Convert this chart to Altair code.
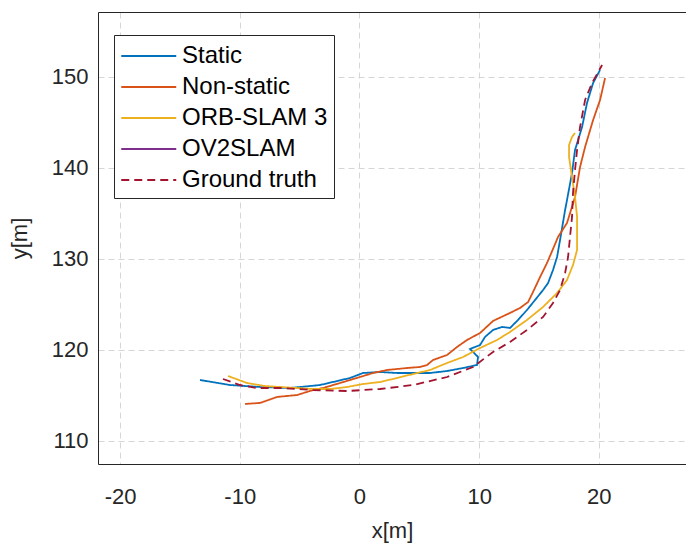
import altair as alt
import pandas as pd

series_names = ["Static", "Non-static", "ORB-SLAM 3", "OV2SLAM", "Ground truth"]
series_colors = ["#0072BD", "#D95319", "#EDB120", "#7E2F8E", "#A2142F"]

static_x = [-13.32, -10.81, -8.30, -5.80, -3.29, -0.79, 0.30, 1.72, 3.14, 4.81, 5.90, 7.32, 8.66, 9.82,
            9.91, 9.24, 10.08, 10.49, 11.16, 11.91, 12.58, 13.25, 14.00, 14.67, 15.34, 15.76, 16.17,
            16.51, 16.76, 17.18, 17.34, 17.76, 18.01, 18.60, 19.01, 19.52, 20.10]
static_y = [116.70, 116.15, 115.93, 115.82, 116.15, 116.92, 117.47, 117.58, 117.47, 117.47, 117.47,
            117.69, 118.02, 118.35, 119.23, 120.11, 120.55, 121.43, 122.20, 122.53, 122.42, 123.30,
            124.40, 125.49, 126.59, 127.36, 128.79, 130.22, 132.09, 135.38, 136.48, 139.45, 141.98,
            144.51, 147.14, 149.34, 150.77]

nonstatic_x = [-9.56, -8.30, -6.88, -5.21, -3.88, -3.04, -1.62, 0.05, 1.14, 2.31, 3.98, 5.06, 5.65, 6.15,
               7.32, 8.15, 8.99, 10.08, 11.16, 12.58, 13.42, 14.09, 14.50, 15.09, 15.67, 16.17, 16.59,
               17.34, 18.01, 18.43, 18.85, 19.52, 20.10, 20.35, 20.52]
nonstatic_y = [114.07, 114.18, 114.84, 115.05, 115.60, 115.82, 116.37, 117.03, 117.47, 117.80, 118.02,
               118.13, 118.35, 118.90, 119.45, 120.33, 121.10, 121.87, 123.19, 124.07, 124.62, 125.27,
               126.37, 128.02, 129.56, 131.10, 132.42, 133.96, 136.81, 140.11, 142.31, 145.27, 147.47,
               148.90, 149.89]

orb_x = [-10.98, -9.39, -7.89, -6.63, -3.88, -2.46, -1.04, 0.30, 1.72, 3.14, 4.48, 5.90, 7.32, 8.66,
         10.08, 11.50, 12.58, 14.00, 15.34, 16.51, 17.34, 17.84, 18.18, 18.18, 18.01, 17.76, 17.51,
         17.51, 17.76, 18.01]
orb_y = [117.14, 116.37, 116.04, 115.93, 115.71, 115.71, 115.93, 116.26, 116.48, 116.92, 117.36, 117.80,
         118.57, 119.23, 120.22, 121.10, 121.98, 123.30, 124.73, 126.26, 127.69, 129.34, 130.99, 134.62,
         136.81, 139.01, 141.21, 142.53, 143.41, 143.85]

ov2_x = []
ov2_y = []

gt_x = [-11.40, -9.98, -8.55, -6.63, -3.88, -1.04, 1.72, 4.48, 7.32, 9.49, 11.16, 12.58, 14.00, 15.34,
        16.17, 16.76, 17.18, 17.43, 17.59, 17.76, 17.84, 18.01, 18.18, 18.43, 18.85, 19.43, 20.27]
gt_y = [116.81, 116.15, 115.82, 115.82, 115.60, 115.49, 115.71, 116.15, 117.03, 118.13, 119.78, 120.88,
        122.20, 123.63, 125.16, 126.59, 128.46, 130.22, 132.42, 134.62, 137.25, 139.78, 141.98, 144.51,
        147.47, 149.34, 151.32]

x_ticks = [-20, -10, 0, 10, 20]
y_ticks = [110, 120, 130, 140, 150]
x_domain = [-21.84, 27.28]
y_domain = [107.47, 157.14]

rows = []
for name, xs, ys in [("Static", static_x, static_y), ("Non-static", nonstatic_x, nonstatic_y),
                     ("ORB-SLAM 3", orb_x, orb_y), ("OV2SLAM", ov2_x, ov2_y),
                     ("Ground truth", gt_x, gt_y)]:
    for i, (xv, yv) in enumerate(zip(xs, ys)):
        rows.append({"series": name, "idx": i, "x": xv, "y": yv})
df = pd.DataFrame(rows)

FONT = "Liberation Sans"
INK = "#262626"

x_scale = alt.Scale(domain=x_domain, nice=False, zero=False)
y_scale = alt.Scale(domain=y_domain, nice=False, zero=False)

y_axis = alt.Axis(values=y_ticks, title="y[m]", labelExpr="toString(datum.value)",
                  grid=True, gridDash=[6, 4], gridColor="#d6d6d6", ticks=False,
                  domain=True, domainColor=INK, labelFontSize=22, titleFontSize=22,
                  labelFont=FONT, titleFont=FONT, labelColor=INK, titleColor=INK,
                  titleFontWeight="normal", labelPadding=10, titlePadding=20)


def make_legend():
    return alt.Legend(orient="none", legendX=16, legendY=23, title=None,
                      symbolType="M-1,0L3,0", symbolSize=756, symbolStrokeWidth=1.8,
                      labelFontSize=24, labelFont=FONT, labelColor="black",
                      strokeColor=INK, fillColor="white", padding=6,
                      labelOffset=32, rowPadding=4)


lines = alt.Chart(df).mark_line(strokeWidth=1.8).encode(
    x=alt.X("x:Q", scale=x_scale,
            axis=alt.Axis(values=x_ticks, title="x[m]", labelExpr="toString(datum.value)",
                          grid=True, gridDash=[6, 4], gridColor="#d6d6d6", ticks=False,
                          domain=True, domainColor=INK, labelFontSize=22, titleFontSize=22,
                          labelFont=FONT, titleFont=FONT, labelColor=INK, titleColor=INK,
                          titleFontWeight="normal", labelPadding=22, titlePadding=13)),
    y=alt.Y("y:Q", scale=y_scale, axis=y_axis),
    color=alt.Color("series:N", scale=alt.Scale(domain=series_names, range=series_colors),
                    legend=make_legend()),
    strokeDash=alt.StrokeDash("series:N",
                              scale=alt.Scale(domain=series_names,
                                              range=[[1, 0], [1, 0], [1, 0], [1, 0], [8, 5]]),
                              legend=make_legend()),
    order="idx:Q",
)

top_axis = alt.Chart(df).mark_line(opacity=0).encode(
    x=alt.X("x:Q", scale=x_scale,
            axis=alt.Axis(orient="top", labels=False, ticks=False, grid=False, title=None,
                          domain=True, domainColor=INK)),
    y=alt.Y("y:Q", scale=y_scale, axis=y_axis),
    detail="series:N",
    order="idx:Q",
)

chart = alt.layer(lines, top_axis).resolve_axis(x="independent").properties(
    width=588, height=452,
    autosize=alt.AutoSizeParams(type="none"),
    padding={"left": 90, "top": 4, "right": 0, "bottom": 80},
    background="white",
).configure_view(stroke=None)

chart.save("out.html", embed_options={"renderer": "svg", "actions": False})
